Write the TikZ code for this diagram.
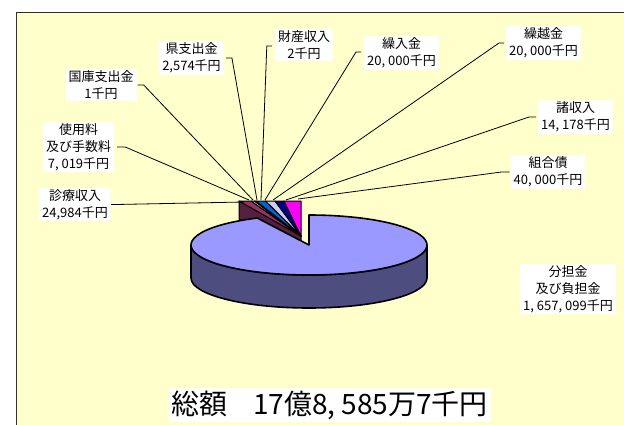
\documentclass[tikz,border=0pt]{standalone}
\usepackage{fontspec}
\usetikzlibrary{calc}
\newfontfamily\jp{Noto Sans CJK JP}
\definecolor{ivory}{HTML}{FFFFCC}
\definecolor{framegray}{HTML}{303030}
\definecolor{periw}{HTML}{9999FF}
\definecolor{periwside}{HTML}{4D4D80}
\definecolor{plum}{HTML}{993366}
\definecolor{plumside}{HTML}{55203F}
\definecolor{dpurple}{HTML}{660066}
\definecolor{ocean}{HTML}{0066CC}
\definecolor{iceblue}{HTML}{CCCCFF}
\definecolor{navyc}{HTML}{000080}
\definecolor{pinkc}{HTML}{FF00FF}
\begin{document}
\begin{tikzpicture}[x=1pt,y=1pt,
  lbl/.style={fill=white, font=\jp\fontsize{13}{17}\selectfont, align=center, inner xsep=3pt, inner ysep=1.5pt},
  leader/.style={draw=black, line width=0.8pt},
  slice/.style={draw=black, line width=1pt, line join=round},
  pieline/.style={draw=black, line width=1.6pt, line join=round}]
\useasboundingbox (0,0) rectangle (624,424);
\fill[white] (0,0) rectangle (624,424);
\draw[fill=ivory, draw=framegray, line width=1.5pt] (16.5,-5) rectangle (640,411.5);

% exploded small slices
\filldraw[slice, fill=plumside] (239,223) -- (239,205) -- (301,170) -- (301,188) -- cycle;
\filldraw[slice, fill=plum] (301,188) -- (239,223) -- (251,223) -- cycle;
\filldraw[slice, fill=ivory] (301,188) -- (251,223) -- (254.5,223) -- cycle;
\filldraw[slice, fill=dpurple] (301,188) -- (254.5,223) -- (256,223) -- cycle;
\filldraw[slice, fill=ocean] (301,188) -- (256,223) -- (265.5,223) -- cycle;
\filldraw[slice, fill=iceblue] (301,188) -- (265.5,223) -- (275,223) -- cycle;
\filldraw[slice, fill=navyc] (301,188) -- (275,223) -- (284,223) -- cycle;
\filldraw[slice, fill=pinkc] (301,188) -- (284,223) -- (301,223) -- cycle;

% main slice
\filldraw[pieline, fill=periwside] (191,179) arc[start angle=180, end angle=360, x radius=118pt, y radius=30pt]
  -- ++(0,-33) arc[start angle=360, end angle=180, x radius=118pt, y radius=30pt] -- cycle;
\filldraw[pieline, fill=periw] (309,179) -- ($(309,179)+(116:118pt and 30pt)$)
  arc[start angle=116, end angle=450, x radius=118pt, y radius=30pt] -- cycle;

% leader end points
\coordinate (e1) at (244,222);
\coordinate (e2) at (249,224);
\coordinate (e3) at (253,224);
\coordinate (e4) at (257,224);
\coordinate (e5) at (261,224);
\coordinate (e6) at (265,224);
\coordinate (e7) at (273,224);
\coordinate (e8) at (286,224);
\coordinate (e9) at (298,225);

% labels
\node[lbl] (sinryo) at (75,219.5) {診療収入\\24,984千円};
\node[lbl] (shiyo) at (78.5,277) {使用料\\及び手数料\\7, 019千円};
\node[lbl] (kokko) at (101,339) {国庫支出金\\1千円};
\node[lbl] (ken) at (191.5,366) {県支出金\\2,574千円};
\node[lbl] (zaisan) at (304,379) {財産収入\\2千円};
\node[lbl] (kurii) at (401.5,371) {繰入金\\20, 000千円};
\node[lbl] (kurikoshi) at (543.5,381) {繰越金\\20, 000千円};
\node[lbl] (sho) at (575.5,307) {諸収入\\14, 178千円};
\node[lbl] (kumiai) at (548,252) {組合債\\40, 000千円};
\node[lbl] (buntan) at (568,135) {分担金\\及び負担金\\1, 657, 099千円};
\node[fill=white, font=\jp\fontsize{28}{30}\selectfont, inner xsep=3pt, inner ysep=3pt] (total) at (330,19) {総額\hspace{0.9em}17億8, 585万7千円};

% leaders
\draw[leader] (sinryo.east) -- ++(5,0) -- (e1);
\draw[leader] (shiyo.east) ++(3,0) -- ++(8,0) -- (e2);
\draw[leader] (kokko.east) ++(1,0) -- ++(6,0) -- (e3);
\draw[leader] (ken.east) ++(2,0) -- ++(6,0) -- (e4);
\draw[leader] (zaisan.west) ++(-3,-1) -- ++(-5,0) -- (e5);
\draw[leader] (kurii.west) ++(-3,1) -- ++(-5,0) -- (e6);
\draw[leader] (kurikoshi.west) ++(-2,0) -- ++(-5,0) -- (e7);
\draw[leader] (sho.west) ++(-2,0) -- ++(-7,0) -- (e8);
\draw[leader] (kumiai.west) ++(-1,0) -- ++(-8,0) -- (e9);
\end{tikzpicture}
\end{document}
